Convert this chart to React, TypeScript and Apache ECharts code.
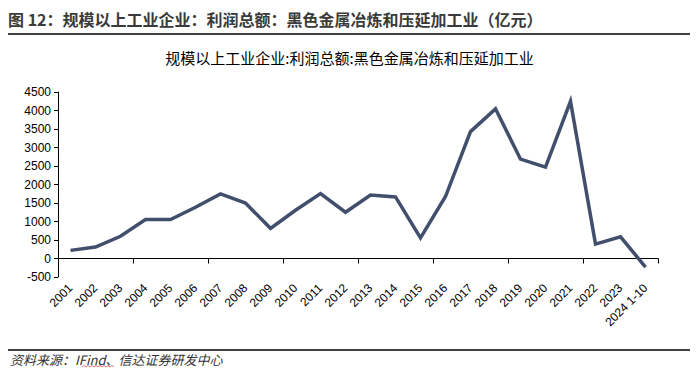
import React, { useEffect, useRef } from "react";
import * as echarts from "echarts";

const headerText = "图 12：规模以上工业企业：利润总额：黑色金属冶炼和压延加工业（亿元）";
const chartTitle = "规模以上工业企业:利润总额:黑色金属冶炼和压延加工业";
const sourceText = "资料来源：IFind、信达证券研发中心";

const categories = [
  "2001", "2002", "2003", "2004", "2005", "2006", "2007", "2008", "2009", "2010",
  "2011", "2012", "2013", "2014", "2015", "2016", "2017", "2018", "2019", "2020",
  "2021", "2022", "2023", "2024 1-10",
];

const profitValues = [
  220, 310, 600, 1055, 1055, 1385, 1745, 1500, 815, 1305,
  1755, 1250, 1715, 1665, 555, 1675, 3430, 4045, 2685, 2470,
  4245, 390, 585, -230,
];

const yTicks = { min: -500, max: 4500, interval: 500 };

export default function App() {
  const ref = useRef<HTMLDivElement>(null);

  useEffect(() => {
    if (!ref.current) return;
    const chart = echarts.init(ref.current, null, { renderer: "svg" });
    const axisColor = "#000000";
    const labelFont = "'Liberation Sans', Arial, sans-serif";
    chart.setOption({
      animation: false,
      backgroundColor: "#ffffff",
      title: {
        text: chartTitle,
        left: "center",
        top: 45,
        textStyle: {
          fontFamily: "'Noto Sans CJK SC', sans-serif",
          fontSize: 15,
          fontWeight: "normal",
          color: "#000000",
        },
      },
      grid: { left: 58, right: 41, top: 92, bottom: 109, containLabel: false },
      xAxis: [
        {
          type: "category",
          data: categories,
          boundaryGap: true,
          axisLine: { onZero: true, lineStyle: { color: axisColor, width: 1 } },
          axisTick: { show: true, alignWithLabel: false, length: 5, lineStyle: { color: axisColor } },
          axisLabel: { show: false },
          splitLine: { show: false },
        },
        {
          type: "category",
          data: categories,
          position: "bottom",
          boundaryGap: true,
          axisLine: { show: false, onZero: false },
          axisTick: { show: false },
          axisLabel: {
            show: true,
            rotate: 45,
            interval: 0,
            margin: 9,
            fontSize: 12,
            fontFamily: labelFont,
            color: "#000000",
          },
          splitLine: { show: false },
        },
      ],
      yAxis: {
        type: "value",
        min: yTicks.min,
        max: yTicks.max,
        interval: yTicks.interval,
        axisLine: { show: true, lineStyle: { color: axisColor, width: 1 } },
        axisTick: { show: true, length: 4, lineStyle: { color: axisColor } },
        axisLabel: {
          fontSize: 12,
          fontFamily: labelFont,
          color: "#000000",
          margin: 7,
          formatter: (v: number) => String(v),
        },
        splitLine: { show: false },
      },
      series: [
        {
          type: "line",
          xAxisIndex: 0,
          data: profitValues,
          symbol: "none",
          lineStyle: { color: "#414e6c", width: 3.5, join: "miter" },
        },
      ],
      graphic: [
        {
          type: "text",
          left: 8,
          top: 11,
          style: {
            text: headerText,
            fontFamily: "'Noto Sans CJK SC', sans-serif",
            fontSize: 16,
            fontWeight: "bold",
            fill: "#3a3a3a",
          },
        },
        {
          type: "line",
          shape: { x1: 8, y1: 34, x2: 690, y2: 34 },
          style: { stroke: "#404040", lineWidth: 2 },
        },
        {
          type: "line",
          shape: { x1: 8, y1: 350, x2: 690, y2: 350 },
          style: { stroke: "#404040", lineWidth: 2 },
        },
        {
          type: "text",
          left: 10,
          top: 353,
          style: {
            text: sourceText,
            fontFamily: "'Noto Sans CJK SC', sans-serif",
            fontSize: 13,
            fontStyle: "italic",
            fill: "#333333",
          },
        },
        {
          type: "polyline",
          shape: {
            points: [
              [82, 367], [84, 365.5], [86, 367], [88, 365.5], [90, 367], [92, 365.5],
              [94, 367], [96, 365.5], [98, 367], [100, 365.5], [102, 367], [104, 365.5],
              [106, 367], [108, 365.5], [110, 367], [112, 365.5], [114, 367],
            ],
          },
          style: { stroke: "#e05050", lineWidth: 0.8, fill: null },
        },
      ],
    });
    return () => chart.dispose();
  }, []);

  return <div ref={ref} style={{ width: 699, height: 386, margin: -8 }} />;
}
